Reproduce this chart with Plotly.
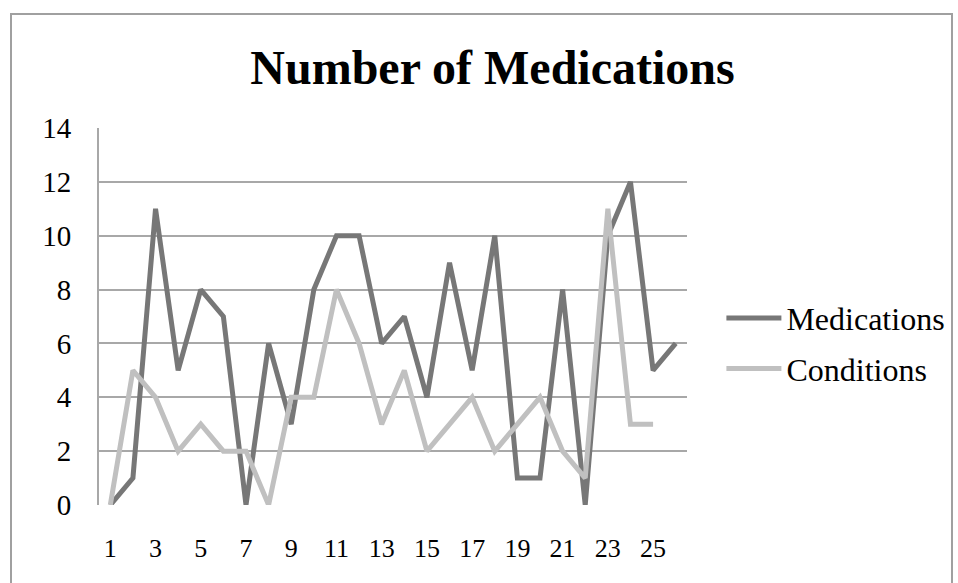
import plotly.graph_objects as go

categories = list(range(1, 27))
medications = [0, 1, 11, 5, 8, 7, 0, 6, 3, 8, 10, 10, 6, 7, 4, 9, 5, 10, 1, 1, 8, 0, 10, 12, 5, 6]
conditions = [0, 5, 4, 2, 3, 2, 2, 0, 4, 4, 8, 6, 3, 5, 2, 3, 4, 2, 3, 4, 2, 1, 11, 3, 3, None]
x_tick_labels = [str(v) for v in range(1, 27, 2)]
y_ticks = list(range(0, 15, 2))

FONT = "Liberation Serif, Times New Roman, serif"

fig = go.Figure()
fig.add_trace(go.Scatter(x=categories, y=medications, name="Medications", mode="lines",
                         line=dict(color="#777777", width=5), legendgroup="a"))
fig.add_trace(go.Scatter(x=categories, y=conditions, name="Conditions", mode="lines",
                         line=dict(color="#c0c0c0", width=5), legendgroup="b"))

fig.update_layout(
    width=958, height=583,
    margin=dict(l=99, r=271, t=128, b=78, autoexpand=False),
    paper_bgcolor="white", plot_bgcolor="white",
    title=dict(text="<b>Number of Medications</b>", x=492.5 / 958, xref="container", xanchor="center",
               y=1 - 67 / 583, yref="container", yanchor="middle",
               font=dict(family=FONT, size=48, color="black")),
    font=dict(family=FONT, color="black"),
    legend=dict(x=1.0585, xanchor="left", y=0.428, yanchor="middle", itemwidth=55,
                font=dict(family=FONT, size=32, color="black"),
                traceorder="grouped", tracegroupgap=6, bgcolor="rgba(0,0,0,0)"),
    xaxis=dict(range=[0.5, 26.5], tickvals=list(range(1, 27, 2)), ticktext=x_tick_labels,
               showgrid=False, zeroline=False, showline=False, ticks="",
               ticklabelstandoff=25, tickfont=dict(family=FONT, size=26, color="black")),
    yaxis=dict(range=[0, 14], tickvals=y_ticks, showgrid=True, gridcolor="#a8a8a8", gridwidth=2,
               zeroline=False, showline=True, linecolor="#a8a8a8", linewidth=2, ticks="",
               ticklabelstandoff=20, tickfont=dict(family=FONT, size=29, color="black")),
    showlegend=True,
    hovermode=False,
)

# outer chart border
fig.add_shape(type="rect", xref="paper", yref="paper", xsizemode="pixel", ysizemode="pixel",
              xanchor=0, yanchor=0, x0=-88, x1=853, y0=-90, y1=491,
              line=dict(color="#a0a0a0", width=2), layer="below")

fig.write_html("out.html", config={"displayModeBar": False},
               post_script="document.body.style.margin='0';")
